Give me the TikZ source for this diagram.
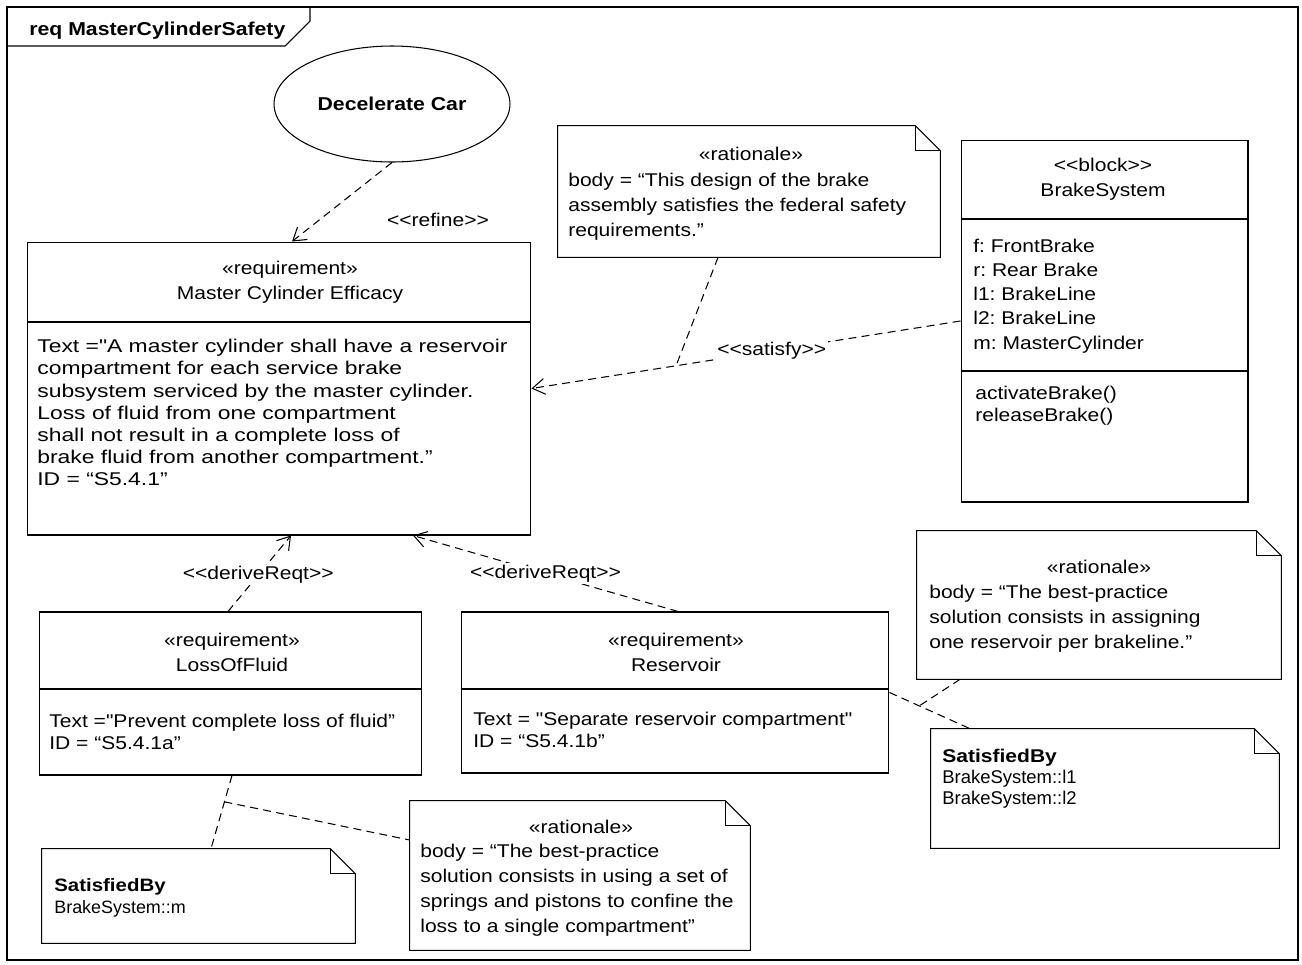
\documentclass[tikz,border=0pt]{standalone}
\usepackage{fontspec}
\newfontfamily\umlfont{Liberation Sans}[FakeStretch=1.14]
\newfontfamily\umlwide{Liberation Sans}[FakeStretch=1.24]
\newfontfamily\umlplain{Liberation Sans}
\usetikzlibrary{
  arrows.meta,
  positioning,
  shapes.geometric,
  calc,
}
\tikzset{
  frameline/.style={line width=0.6pt},
  umlbox/.style={
    rectangle, draw, line width=0.6pt, inner sep=0pt
  },
  notebox/.style={
    rectangle, inner sep=0pt
  },
  headtxt/.style={
    inner sep=0pt, align=center,
    font=\umlfont\fontsize{10.5}{14.2}\selectfont
  },
  bodytxt/.style={
    inner sep=0pt, align=left, anchor=north west,
    font=\umlfont\fontsize{10.5}{12.6}\selectfont
  },
  notetxt/.style={
    inner sep=0pt, align=left, anchor=north west,
    font=\umlfont\fontsize{10.5}{14.2}\selectfont
  },
  relline/.style={line width=0.6pt, dash pattern=on 4.5pt off 3pt},
  relarrow/.style={relline, -{Straight Barb[length=7pt, width=9pt]}},
  rellabel/.style={
    fill=white, inner sep=1pt,
    font=\umlfont\fontsize{10.5}{12.6}\selectfont
  },
}
% folded-corner outline for a note node
\newcommand{\dogear}[1]{%
  \draw[line width=0.6pt] (#1.south west) -- (#1.north west)
    -- ([xshift=-0.5cm]#1.north east) -- ([yshift=-0.5cm]#1.north east)
    -- (#1.south east) -- cycle;
  \draw[line width=0.6pt] ([xshift=-0.5cm]#1.north east) |- ([yshift=-0.5cm]#1.north east);
}

\begin{document}
\frenchspacing
\begin{tikzpicture}[x=0.02cm, y=-0.02cm]

  \useasboundingbox (0,0) rectangle (1302,964);

  % ── Frame ──
  \draw[frameline] (7,7) rectangle (1298,960);
  \draw[frameline] (7,46) -- (285,46) -- (310,21) -- (310,7);
  \node[inner sep=0pt, anchor=west, font=\umlfont\bfseries\fontsize{10.6}{13}\selectfont]
    (title) at (29,31) {req MasterCylinderSafety};

  % ── Nodes ──
  \node[ellipse, draw, line width=0.6pt, minimum width=4.72cm, minimum height=2.32cm,
        font=\umlfont\bfseries\fontsize{10.6}{13}\selectfont]
    (dec) at (392,104) {Decelerate Car};

  \node[umlbox, minimum width=10.08cm, minimum height=5.86cm] (mce) at (279,388.5) {};
  \node[umlbox, minimum width=5.74cm,  minimum height=7.24cm] (bs)  at (1104.5,321) {};
  \node[umlbox, minimum width=7.66cm,  minimum height=3.26cm] (lof) at (230.5,693.5) {};
  \node[umlbox, minimum width=8.56cm,  minimum height=3.22cm] (res) at (675,692.5) {};

  \node[notebox, minimum width=7.64cm, minimum height=2.62cm] (rat1) at (749,191.5) {};
  \node[notebox, minimum width=7.28cm, minimum height=2.96cm] (rat2) at (1099,605) {};
  \node[notebox, minimum width=6.80cm, minimum height=2.98cm] (rat3) at (580,875.5) {};
  \node[notebox, minimum width=6.96cm, minimum height=2.38cm] (sby1) at (1105,788.5) {};
  \node[notebox, minimum width=6.26cm, minimum height=1.88cm] (sby2) at (198.5,896) {};
  \dogear{rat1}
  \dogear{rat2}
  \dogear{rat3}
  \dogear{sby1}
  \dogear{sby2}

  % ── Compartments ──
  \draw[line width=0.6pt] (mce.west |- 0,322) -- (mce.east |- 0,322);
  \draw[line width=0.6pt] (bs.west |- 0,219) -- (bs.east |- 0,219);
  \draw[line width=0.6pt] (bs.west |- 0,371) -- (bs.east |- 0,371);
  \draw[line width=0.6pt] (lof.west |- 0,689) -- (lof.east |- 0,689);
  \draw[line width=0.6pt] (res.west |- 0,689) -- (res.east |- 0,689);

  % ── Texts ──
  \node[headtxt] (mceH) at (290,282) {«requirement»\\Master Cylinder Efficacy};
  \node[bodytxt, font=\umlwide\fontsize{10.5}{12.6}\selectfont] (mceB) at (37,339)
    {Text ="A master cylinder shall have a reservoir\\
    compartment for each service brake\\
    subsystem serviced by the master cylinder.\\
    Loss of fluid from one compartment\\
    shall not result in a complete loss of\\
    brake fluid from another compartment.”\\
    ID = “S5.4.1”};

  \node[headtxt] (bsH) at (1103,179) {<\kern0pt<block>\kern0pt>\\BrakeSystem};
  \node[bodytxt, font=\umlfont\fontsize{10.5}{13.7}\selectfont] (bsA) at (973,239)
    {f: FrontBrake\\r: Rear Brake\\l1: BrakeLine\\l2: BrakeLine\\m: MasterCylinder};
  \node[bodytxt] (bsO) at (975,386) {activateBrake()\\releaseBrake()};

  \node[headtxt] (lofH) at (232,652) {«requirement»\\LossOfFluid};
  \node[bodytxt] (lofB) at (49,714) {Text ="Prevent complete loss of fluid”\\ID = “S5.4.1a”};

  \node[headtxt] (resH) at (676,652) {«requirement»\\Reservoir};
  \node[bodytxt] (resB) at (473,712) {Text = "Separate reservoir compartment"\\ID = “S5.4.1b”};

  \node[headtxt] (rat1H) at (751,154) {«rationale»};
  \node[notetxt] (rat1B) at (568,173) {body = “This design of the brake\\
    assembly satisfies the federal safety\\requirements.”};

  \node[headtxt] (rat2H) at (1099,567) {«rationale»};
  \node[notetxt] (rat2B) at (929,585) {body = “The best-practice\\
    solution consists in assigning\\one reservoir per brakeline.”};

  \node[headtxt] (rat3H) at (581,827) {«rationale»};
  \node[notetxt] (rat3B) at (420,844) {body = “The best-practice\\
    solution consists in using a set of\\springs and pistons to confine the\\
    loss to a single compartment”};

  \node[bodytxt, font=\umlplain\fontsize{10.5}{11.8}\selectfont] (sby1B) at (942,749)
    {{\umlfont\bfseries SatisfiedBy}\\BrakeSystem::l1\\BrakeSystem::l2};
  \node[bodytxt, font=\umlplain\fontsize{10.2}{12.6}\selectfont] (sby2B) at (54,878)
    {{\umlfont\bfseries SatisfiedBy}\\BrakeSystem::m};

  % ── Relationships ──
  \draw[relarrow] (dec.south) -- ([xshift=0.26cm]mce.north);
  \node[rellabel] (refL) at (438,220) {<\kern0pt<refine>\kern0pt>};

  \draw[relarrow] (bs.west) -- coordinate[pos=0.663] (satP) (mce.east);
  \draw[relline] ([xshift=-0.62cm]rat1.south) -- (satP);
  \node[rellabel] (satL) at ($(bs.west)!0.44!(mce.east)$) {<\kern0pt<satisfy>\kern0pt>};

  \draw[relarrow] ([xshift=-0.05cm]lof.north) -- coordinate[pos=0.48] (dr1P) ([xshift=0.24cm]mce.south);
  \node[rellabel] (dr1L) at (dr1P) {<\kern0pt<deriveReqt>\kern0pt>};

  \draw[relarrow] ([xshift=0.06cm]res.north) -- coordinate[pos=0.5] (dr2P) ([xshift=2.68cm]mce.south);
  \node[rellabel] (dr2L) at (dr2P) {<\kern0pt<deriveReqt>\kern0pt>};

  \draw[relline] (res.east) -- coordinate[pos=0.37] (resP) ([xshift=-2.7cm]sby1.north);
  \draw[relline] ([xshift=-2.78cm]rat2.south) -- (resP);

  \draw[relline] ([xshift=0.03cm]lof.south) -- coordinate[pos=0.36] (lofP) ([xshift=0.25cm]sby2.north);
  \draw[relline] (lofP) -- ([yshift=0.71cm]rat3.west);

\end{tikzpicture}
\end{document}
